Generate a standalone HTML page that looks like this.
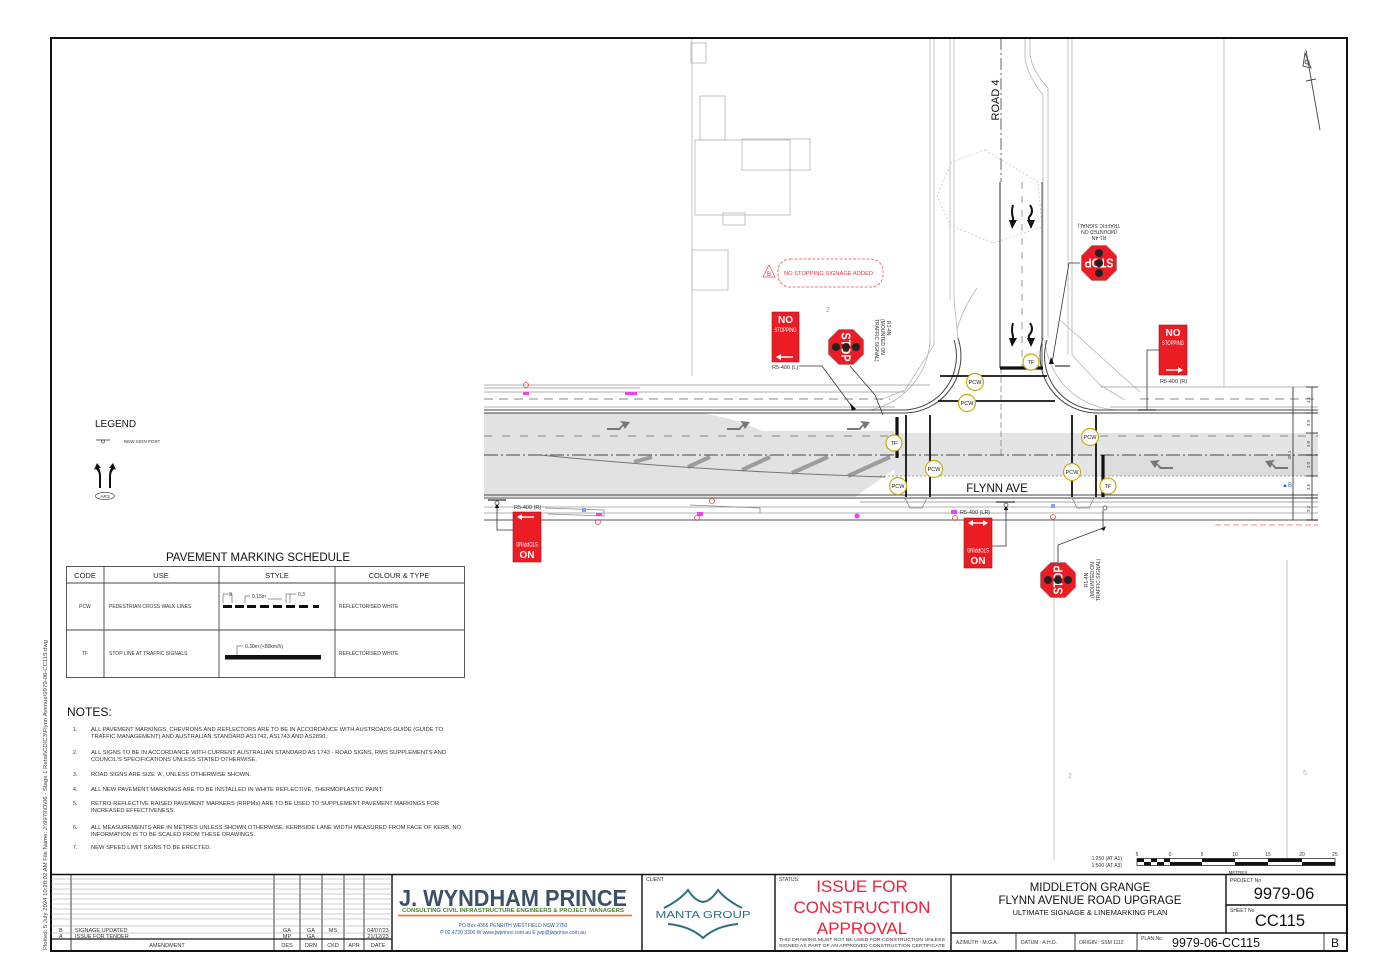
<!DOCTYPE html>
<html><head><meta charset="utf-8">
<style>
html,body{margin:0;padding:0;background:#fff;}
svg{display:block;}
text{font-family:"Liberation Sans",Arial,sans-serif;}
</style></head><body>
<svg width="1385" height="977" viewBox="0 0 1385 977" xmlns="http://www.w3.org/2000/svg">
<rect width="1385" height="977" fill="#fff"/>

<!-- ===== faint plan linework (top) ===== -->
<g stroke="#b5b5b5" stroke-width="0.8" fill="none">
  <line x1="692" y1="38" x2="692" y2="376"/>
  <rect x="691" y="43" width="15" height="20"/>
  <rect x="700" y="96" width="25" height="44"/>
  <rect x="695" y="140" width="95" height="75"/>
  <rect x="742" y="139" width="68" height="31"/>
  <rect x="723" y="213" width="22" height="12"/>
  <rect x="692" y="250" width="36" height="40"/>
  <line x1="1224" y1="38" x2="1224" y2="386"/>
  <line x1="1054" y1="520" x2="1054" y2="860"/>
  <line x1="1287" y1="560" x2="1287" y2="860"/>
  <line x1="930" y1="38" x2="930" y2="345"/>
  <line x1="934" y1="38" x2="934" y2="345"/>
  <line x1="950" y1="38" x2="950" y2="300"/>
  <line x1="954" y1="38" x2="954" y2="300"/>
  <line x1="1068" y1="38" x2="1068" y2="355"/>
  <line x1="1072" y1="38" x2="1072" y2="355"/>
  <path d="M1025 38 L1025 58 Q1027 75 1043 95 L1043 338"/>
  <path d="M1030 38 L1030 55 Q1033 72 1048 88 L1048 338"/>
  <polygon points="985,150 1038,182 1042,227 993,243 950,225 937,195 952,162" stroke-dasharray="2 2" stroke="#c8c8c8"/>
  <path d="M954 300 Q956 320 958 338"/>
  <path d="M977 288 Q962 310 957 330"/>
  <path d="M1060 320 L1140 392"/>
  <path d="M934 345 L905 390 L880 400"/>
  <path d="M1072 355 L1100 385 L1125 400"/>
  <path d="M930 340 A75 75 0 0 1 870 410"/>
  <path d="M1045 340 A75 75 0 0 0 1120 410"/>
</g>

<!-- ===== Flynn Ave pavement ===== -->
<rect x="484" y="413" width="410" height="84" fill="#e2e2e2"/>
<path d="M700 413 L900 413 L900 431 L762 431 Q735 418 700 413 Z" fill="#fff"/>
<path d="M855 497 L896 497 L896 468 Z" fill="#fff"/>
<rect x="894" y="433" width="424" height="43" fill="#e4e4e4"/>
<rect x="1103" y="455" width="215" height="21" fill="#dcdcdc"/>
<g stroke="#9c9c9c" stroke-width="4">
  <line x1="634" y1="462" x2="652" y2="457"/>
  <line x1="688" y1="467" x2="710" y2="457"/>
  <line x1="742" y1="470" x2="770" y2="457"/>
  <line x1="792" y1="473" x2="828" y2="457"/>
  <line x1="848" y1="476" x2="890" y2="457"/>
</g>
<path d="M540 455 Q700 471 885 477" stroke="#777" stroke-width="1" fill="none"/>

<g stroke="#999" stroke-width="0.8" fill="none">
  <line x1="484" y1="385" x2="930" y2="385"/>
  <line x1="484" y1="388" x2="640" y2="388"/>
  <line x1="484" y1="392" x2="905" y2="392"/>
  <line x1="484" y1="407" x2="895" y2="407"/>
  <line x1="1100" y1="387" x2="1318" y2="387"/>
  <line x1="1110" y1="407" x2="1318" y2="407"/>
  <line x1="484" y1="507" x2="1318" y2="507"/>
  <line x1="484" y1="513" x2="1318" y2="513"/>
</g>
<line x1="484" y1="399" x2="890" y2="399" stroke="#888" stroke-width="0.9" stroke-dasharray="9 6"/>
<line x1="1140" y1="399" x2="1318" y2="399" stroke="#888" stroke-width="0.9" stroke-dasharray="9 6"/>
<g stroke="#444" stroke-width="1" fill="none">
  <line x1="484" y1="410" x2="905" y2="410"/>
  <line x1="484" y1="413" x2="905" y2="413"/>
  <line x1="1096" y1="410" x2="1318" y2="410"/>
  <line x1="1096" y1="413" x2="1318" y2="413"/>
  <line x1="484" y1="495" x2="1318" y2="495"/>
  <line x1="484" y1="498" x2="1318" y2="498"/>
  <path d="M958 338 A57 57 0 0 1 905 413"/>
  <path d="M954 340 A54 54 0 0 1 905 410"/>
  <path d="M1043 338 A57 57 0 0 0 1096 413"/>
  <path d="M1047 340 A54 54 0 0 0 1096 410"/>
</g>
<line x1="484" y1="520" x2="1318" y2="520" stroke="#777" stroke-width="1.3"/>
<line x1="484" y1="436" x2="895" y2="436" stroke="#888" stroke-width="1" stroke-dasharray="8 10"/>
<line x1="1100" y1="436" x2="1318" y2="436" stroke="#888" stroke-width="1" stroke-dasharray="8 10"/>
<line x1="484" y1="455" x2="1318" y2="455" stroke="#666" stroke-width="1.2" stroke-dasharray="14 3 2 3"/>
<line x1="880" y1="476" x2="1318" y2="476" stroke="#888" stroke-width="0.8" stroke-dasharray="2 2"/>
<g stroke="#888" stroke-width="0.8" fill="none">
  <path d="M905 498 L910 508 L922 508 L927 498"/>
  <path d="M1072 498 L1077 508 L1089 508 L1094 498"/>
  <path d="M545 508 L604 510 L604 516 L548 514"/>
  <path d="M690 505 L760 508 L760 513 M860 502 L1318 502"/>
</g>

<line x1="1001" y1="38" x2="1001" y2="182" stroke="#555" stroke-width="0.9" stroke-dasharray="12 3 2 3"/>
<line x1="1000" y1="182" x2="1000" y2="368" stroke="#333" stroke-width="1"/>
<line x1="1022" y1="182" x2="1022" y2="368" stroke="#999" stroke-width="1" stroke-dasharray="7 7"/>
<line x1="1042" y1="182" x2="1042" y2="368" stroke="#555" stroke-width="1"/>
<line x1="1001" y1="368" x2="1001" y2="455" stroke="#777" stroke-width="0.7" stroke-dasharray="6 3"/>

<g stroke="#111" fill="none">
  <line x1="1000" y1="368" x2="1043" y2="368" stroke-width="3.2"/>
  <line x1="897" y1="417" x2="897" y2="458" stroke-width="3.2"/>
  <line x1="1103" y1="455" x2="1103" y2="497" stroke-width="3.2"/>
  <line x1="940" y1="376" x2="1047" y2="376" stroke-width="1.8"/>
  <line x1="938" y1="401" x2="1055" y2="401" stroke-width="1.8"/>
  <line x1="906" y1="415" x2="906" y2="497" stroke-width="1.8"/>
  <line x1="930" y1="415" x2="930" y2="497" stroke-width="1.8"/>
  <line x1="1072" y1="415" x2="1072" y2="497" stroke-width="1.8"/>
  <line x1="1096" y1="415" x2="1096" y2="497" stroke-width="1.8"/>
</g>

<g fill="#777">
  <path d="M607 428 L619 428 L623 424 L620 421 L630 422 L625 429 L623 426 L620 430 L607 430 Z"/>
  <path d="M727 428 L739 428 L743 424 L740 421 L750 422 L745 429 L743 426 L740 430 L727 430 Z"/>
  <path d="M847 428 L859 428 L863 424 L860 421 L870 422 L865 429 L863 426 L860 430 L847 430 Z"/>
  <path d="M1173 467 L1161 467 L1157 463 L1160 460 L1150 461 L1155 468 L1157 465 L1160 469 L1173 469 Z"/>
  <path d="M1288 467 L1276 467 L1272 463 L1275 460 L1265 461 L1270 468 L1272 465 L1275 469 L1288 469 Z"/>
</g>
<g fill="#111" stroke="#111">
  <path d="M1013 205 Q1011 212 1013 218 L1013 222" stroke-width="2" fill="none"/>
  <path d="M1009 220 L1017 220 L1012 229 Z" stroke="none"/>
  <path d="M1030 205 Q1034 211 1030 216 Q1027 219 1031 222" stroke-width="2" fill="none"/>
  <path d="M1027 220 L1035 220 L1031 229 Z" stroke="none"/>
  <path d="M1013 323 Q1011 330 1013 336 L1013 340" stroke-width="2" fill="none"/>
  <path d="M1009 338 L1017 338 L1012 347 Z" stroke="none"/>
  <path d="M1030 323 Q1034 329 1030 334 Q1027 337 1031 340" stroke-width="2" fill="none"/>
  <path d="M1027 338 L1035 338 L1031 347 Z" stroke="none"/>
</g>

<g font-size="5.5" text-anchor="middle" fill="#222">
  <g fill="#fff" stroke="#c2ae10" stroke-width="1.2">
    <circle cx="894" cy="443" r="8"/><circle cx="898" cy="486" r="8.5"/>
    <circle cx="934" cy="469" r="8.5"/><circle cx="975" cy="382" r="8.5"/>
    <circle cx="967" cy="403" r="8.5"/><circle cx="1031" cy="362" r="8"/>
    <circle cx="1090" cy="437" r="8.5"/><circle cx="1072" cy="472" r="8.5"/>
    <circle cx="1108" cy="486" r="8"/>
  </g>
  <text x="894" y="445">TF</text><text x="898" y="488">PCW</text>
  <text x="934" y="471">PCW</text><text x="975" y="384">PCW</text>
  <text x="967" y="405">PCW</text><text x="1031" y="364">TF</text>
  <text x="1090" y="439">PCW</text><text x="1072" y="474">PCW</text>
  <text x="1108" y="488">TF</text>
</g>

<text x="997" y="492" font-size="11.5" text-anchor="middle" fill="#111">FLYNN AVE</text>
<text transform="translate(999,100) rotate(-90)" font-size="11" text-anchor="middle" fill="#111">ROAD 4</text>
<text x="826" y="312" font-size="7" fill="#999">2</text>
<text x="1068" y="778" font-size="7" fill="#aaa">2</text>
<text x="1303" y="775" font-size="7" fill="#aaa">5</text>

<g stroke="#222" stroke-width="0.8">
  <line x1="1293" y1="387" x2="1293" y2="520"/>
  <line x1="1312" y1="387" x2="1312" y2="520"/>
  <line x1="1306" y1="387" x2="1318" y2="387"/><line x1="1306" y1="413" x2="1318" y2="413"/>
  <line x1="1306" y1="433" x2="1318" y2="433"/><line x1="1306" y1="455" x2="1318" y2="455"/>
  <line x1="1306" y1="476" x2="1318" y2="476"/><line x1="1306" y1="498" x2="1318" y2="498"/>
  <line x1="1306" y1="520" x2="1318" y2="520"/>
</g>
<g font-size="4.5" fill="#444" text-anchor="middle">
  <text transform="translate(1310,400) rotate(-90)">4.1</text>
  <text transform="translate(1310,423) rotate(-90)">3.0</text>
  <text transform="translate(1310,444) rotate(-90)">3.0</text>
  <text transform="translate(1310,465) rotate(-90)">3.0</text>
  <text transform="translate(1310,487) rotate(-90)">3.6</text>
  <text transform="translate(1310,509) rotate(-90)">3.2</text>
  <text transform="translate(1291,455) rotate(-90)">20.1</text>
</g>
<line x1="1215" y1="525" x2="1318" y2="525" stroke="#f06a3a" stroke-width="0.7" stroke-dasharray="6 3"/>
<text x="1282" y="487" font-size="6" fill="#3060e0">▲B</text>

<g fill="#f040f0">
  <rect x="523" y="392" width="6" height="3"/><rect x="625" y="392" width="12" height="3"/>
  <rect x="596" y="513" width="6" height="3"/><rect x="697" y="512" width="6" height="4"/>
  <rect x="951" y="510" width="6" height="4"/><circle cx="857" cy="516" r="2.5"/>
</g>
<g fill="none" stroke="#f04848" stroke-width="0.8">
  <circle cx="526" cy="385" r="2.5"/><circle cx="598" cy="522" r="2.5"/>
  <circle cx="712" cy="501" r="2.5"/><circle cx="955" cy="518" r="2.5"/>
  <circle cx="697" cy="518" r="2.5"/><circle cx="1053" cy="517" r="2.5"/>
</g>
<g fill="#7fa0ff"><rect x="582" y="508" width="4" height="4"/><rect x="1051" y="504" width="4" height="4"/></g>

<g stroke="#444" stroke-width="0.9" fill="none">
  <line x1="1306" y1="50" x2="1320" y2="130"/>
  <path d="M1305 53 L1311 68 L1303 66 Z"/>
  <line x1="1306" y1="81" x2="1316" y2="79"/>
  <circle cx="1307" cy="62" r="2"/>
</g>

<g stroke="#333" stroke-width="0.8" fill="none">
  <path d="M799 366 L822 366 L853 408"/>
  <path d="M850 366 L875 395 L883 415"/>
  <path d="M1159 350 L1147 350 L1147 410"/>
  <path d="M1080 263 L1069 263 L1052 363"/>
  <path d="M513 530 L497 530 L497 503"/>
  <path d="M992 546 L1006 546 L1006 505"/>
  <path d="M1058 562 L1058 545 L1103 528 L1103 510"/>
  <line x1="488" y1="500" x2="506" y2="500" stroke-width="1.2"/>
  <line x1="996" y1="502" x2="1015" y2="502" stroke-width="1.2"/>
  <line x1="1138" y1="410" x2="1156" y2="410" stroke-width="1.2"/>
  <line x1="1055" y1="366" x2="1070" y2="366" stroke-width="1.2"/>
</g>
<g fill="#111">
  <path d="M850 403 L856 409 L852 411 Z"/><path d="M1051 357 L1054 364 L1049 364 Z"/>
  <path d="M497 502 L495 508 L499 508 Z"/><path d="M1006 504 L1004 510 L1008 510 Z"/>
  <path d="M1101 529 L1106 526 L1104 531 Z"/>
</g>
<g fill="#fff" stroke="#333" stroke-width="0.7">
  <circle cx="497" cy="503" r="2"/><circle cx="1006" cy="505" r="2"/><circle cx="1105" cy="508" r="2"/>
</g>

<!-- NO STOPPING signs -->
<g transform="translate(772,312)">
  <rect width="27" height="50" fill="#ec1c24" stroke="#b01018" stroke-width="0.6"/>
  <text x="13.5" y="11" font-size="10" fill="#fff" text-anchor="middle" font-weight="bold">NO</text>
  <text x="13.5" y="20" font-size="6.5" fill="#fff" text-anchor="middle" textLength="22" lengthAdjust="spacingAndGlyphs">STOPPING</text>
  <line x1="8" y1="45" x2="21" y2="45" stroke="#fff" stroke-width="1.4"/><path d="M4 45 L9 42 L9 48 Z" fill="#fff"/>
</g>
<text x="772" y="369" font-size="5.5" fill="#333">R5-400 (L)</text>
<g transform="translate(1159,325)">
  <rect width="28" height="50" fill="#ec1c24" stroke="#b01018" stroke-width="0.6"/>
  <text x="14" y="11" font-size="10" fill="#fff" text-anchor="middle" font-weight="bold">NO</text>
  <text x="14" y="20" font-size="6.5" fill="#fff" text-anchor="middle" textLength="22" lengthAdjust="spacingAndGlyphs">STOPPING</text>
  <line x1="7" y1="45" x2="20" y2="45" stroke="#fff" stroke-width="1.4"/><path d="M24 45 L19 42 L19 48 Z" fill="#fff"/>
</g>
<text x="1160" y="383" font-size="5.5" fill="#333">R5-400 (R)</text>
<g transform="translate(541,562) rotate(180)">
  <rect width="28" height="50" fill="#ec1c24" stroke="#b01018" stroke-width="0.6"/>
  <text x="14" y="11" font-size="10" fill="#fff" text-anchor="middle" font-weight="bold">NO</text>
  <text x="14" y="20" font-size="6.5" fill="#fff" text-anchor="middle" textLength="22" lengthAdjust="spacingAndGlyphs">STOPPING</text>
  <line x1="7" y1="45" x2="20" y2="45" stroke="#fff" stroke-width="1.4"/><path d="M24 45 L19 42 L19 48 Z" fill="#fff"/>
</g>
<text x="514" y="509" font-size="5.5" fill="#333">R5-400 (R)</text>
<g transform="translate(992,568) rotate(180)">
  <rect width="28" height="50" fill="#ec1c24" stroke="#b01018" stroke-width="0.6"/>
  <text x="14" y="11" font-size="10" fill="#fff" text-anchor="middle" font-weight="bold">NO</text>
  <text x="14" y="20" font-size="6.5" fill="#fff" text-anchor="middle" textLength="22" lengthAdjust="spacingAndGlyphs">STOPPING</text>
  <line x1="8" y1="45" x2="20" y2="45" stroke="#fff" stroke-width="1.4"/>
  <path d="M4 45 L9 42 L9 48 Z" fill="#fff"/><path d="M24 45 L19 42 L19 48 Z" fill="#fff"/>
</g>
<text x="960" y="514" font-size="5.5" fill="#333">R5-400 (LR)</text>

<!-- STOP signs -->
<g transform="translate(846,347) rotate(90)">
  <polygon points="17.6,7.3 7.3,17.6 -7.3,17.6 -17.6,7.3 -17.6,-7.3 -7.3,-17.6 7.3,-17.6 17.6,-7.3" fill="#ec1c24" stroke="#999" stroke-width="0.6"/>
  <text x="0" y="4.5" font-size="12.5" font-weight="bold" fill="#fff" text-anchor="middle" textLength="29" lengthAdjust="spacingAndGlyphs">STOP</text>
  <circle cx="0" cy="-10" r="4" fill="#222"/><circle cx="0" cy="0" r="4" fill="#222"/><circle cx="0" cy="10" r="4" fill="#222"/>
</g>
<g font-size="5" fill="#333" text-anchor="start">
  <text transform="translate(887,321) rotate(90)">R1-4N</text>
  <text transform="translate(881,319) rotate(90)">(MOUNTED ON</text>
  <text transform="translate(875,319) rotate(90)">TRAFFIC SIGNAL)</text>
</g>
<g transform="translate(1099,263) rotate(180)">
  <polygon points="17.6,7.3 7.3,17.6 -7.3,17.6 -17.6,7.3 -17.6,-7.3 -7.3,-17.6 7.3,-17.6 17.6,-7.3" fill="#ec1c24" stroke="#999" stroke-width="0.6"/>
  <text x="0" y="4.5" font-size="12.5" font-weight="bold" fill="#fff" text-anchor="middle" textLength="29" lengthAdjust="spacingAndGlyphs">STOP</text>
  <circle cx="0" cy="-10" r="4" fill="#222"/><circle cx="0" cy="0" r="4" fill="#222"/><circle cx="0" cy="10" r="4" fill="#222"/>
</g>
<g font-size="5" fill="#333" text-anchor="middle">
  <text transform="translate(1099,236) rotate(180)">R1-4N</text>
  <text transform="translate(1099,230) rotate(180)">(MOUNTED ON</text>
  <text transform="translate(1099,224) rotate(180)">TRAFFIC SIGNAL)</text>
</g>
<g transform="translate(1058,580) rotate(-90)">
  <polygon points="17.6,7.3 7.3,17.6 -7.3,17.6 -17.6,7.3 -17.6,-7.3 -7.3,-17.6 7.3,-17.6 17.6,-7.3" fill="#ec1c24" stroke="#999" stroke-width="0.6"/>
  <text x="0" y="4.5" font-size="12.5" font-weight="bold" fill="#fff" text-anchor="middle" textLength="29" lengthAdjust="spacingAndGlyphs">STOP</text>
  <circle cx="0" cy="-10" r="4" fill="#222"/><circle cx="0" cy="0" r="4" fill="#222"/><circle cx="0" cy="10" r="4" fill="#222"/>
</g>
<g font-size="5" fill="#333" text-anchor="middle">
  <text transform="translate(1088,580) rotate(-90)">R1-4N</text>
  <text transform="translate(1094,580) rotate(-90)">(MOUNTED ON</text>
  <text transform="translate(1100,580) rotate(-90)">TRAFFIC SIGNAL)</text>
</g>

<rect x="778" y="259" width="105" height="28" rx="12" fill="none" stroke="#f04858" stroke-width="0.8" stroke-dasharray="3 1.5"/>
<text x="784" y="275" font-size="5.5" fill="#f03040" textLength="89" lengthAdjust="spacingAndGlyphs">NO STOPPING SIGNAGE ADDED</text>
<path d="M769 265 L763 277 L775 277 Z" fill="none" stroke="#f04858" stroke-width="0.7"/>
<text x="769" y="276" font-size="6" fill="#f03040" text-anchor="middle">B</text>

<!-- LEGEND -->
<text x="95" y="427" font-size="10" fill="#111">LEGEND</text>
<line x1="96" y1="440" x2="110" y2="440" stroke="#333" stroke-width="0.8"/>
<circle cx="103" cy="441.5" r="1.5" fill="none" stroke="#333" stroke-width="0.6"/>
<text x="124" y="443" font-size="4.5" fill="#333">NEW SIGN POST</text>
<g fill="#111">
  <path d="M99 488 L99 476 Q99 472 96 469 L94 470 L97 463 L101 468 L99 468 Q101 472 101 476 L101 488 Z"/>
  <path d="M111 488 L111 476 Q111 472 114 469 L116 470 L113 463 L109 468 L111 468 Q109 472 109 476 L109 488 Z"/>
</g>
<ellipse cx="105" cy="496" rx="9.5" ry="3.6" fill="none" stroke="#333" stroke-width="0.6"/>
<text x="105" y="498" font-size="4.8" fill="#333" text-anchor="middle">AR3</text>

<!-- PAVEMENT MARKING SCHEDULE -->
<text x="258" y="561" font-size="11.5" fill="#111" text-anchor="middle">PAVEMENT MARKING SCHEDULE</text>
<g stroke="#444" stroke-width="0.9" fill="none">
  <rect x="66.5" y="566.5" width="398" height="111"/>
  <line x1="66" y1="583" x2="465" y2="583"/>
  <line x1="66" y1="630" x2="465" y2="630"/>
  <line x1="104" y1="566" x2="104" y2="678"/>
  <line x1="219" y1="566" x2="219" y2="678"/>
  <line x1="335" y1="566" x2="335" y2="678"/>
</g>
<g font-size="7.5" fill="#222" text-anchor="middle">
  <text x="85" y="578">CODE</text><text x="161" y="578">USE</text>
  <text x="277" y="578">STYLE</text><text x="399" y="578">COLOUR &amp; TYPE</text>
</g>
<g font-size="5" fill="#333">
  <text x="85" y="608" text-anchor="middle">PCW</text>
  <text x="109" y="608">PEDESTRIAN CROSS WALK LINES</text>
  <text x="339" y="608">REFLECTORISED WHITE</text>
  <text x="85" y="655" text-anchor="middle">TF</text>
  <text x="109" y="655">STOP LINE AT TRAFFIC SIGNALS</text>
  <text x="339" y="655">REFLECTORISED WHITE</text>
  <text x="229" y="596">3</text><text x="252" y="598">0.15m</text><text x="298" y="596">0.3</text>
  <text x="245" y="648">0.30m  (&lt;80km/h)</text>
</g>
<g fill="#111">
  <rect x="223" y="605" width="9" height="3"/><rect x="235" y="605" width="9" height="3"/>
  <rect x="247" y="605" width="9" height="3"/><rect x="260" y="605" width="9" height="3"/>
  <rect x="273" y="605" width="9" height="3"/><rect x="286" y="605" width="9" height="3"/>
  <rect x="299" y="605" width="9" height="3"/><rect x="313" y="605" width="6" height="3"/>
  <rect x="225" y="655" width="96" height="4.5"/>
</g>
<g stroke="#333" stroke-width="0.5" fill="none">
  <path d="M223 603 L223 594 L232 594 M232 594 L232 603"/>
  <path d="M245 603 L245 596 L250 596"/>
  <path d="M268 599 L282 599"/>
  <path d="M286 603 L286 594 L296 594 M290 594 L290 603"/>
  <path d="M237 655 L237 646 L243 646"/>
</g>

<!-- NOTES -->
<text x="67" y="716" font-size="12" fill="#111">NOTES:</text>
<g font-size="5.2" fill="#333">
  <text x="73" y="731">1.</text>
  <text x="91" y="731" textLength="352" lengthAdjust="spacingAndGlyphs">ALL PAVEMENT MARKINGS, CHEVRONS AND REFLECTORS ARE TO BE IN ACCORDANCE WITH AUSTROADS GUIDE (GUIDE TO</text>
  <text x="91" y="738" textLength="236" lengthAdjust="spacingAndGlyphs">TRAFFIC MANAGEMENT) AND AUSTRALIAN STANDARD AS1742, AS1743 AND AS2890.</text>
  <text x="73" y="754">2.</text>
  <text x="91" y="754" textLength="355" lengthAdjust="spacingAndGlyphs">ALL SIGNS TO BE IN ACCORDANCE WITH CURRENT AUSTRALIAN STANDARD AS 1743 - ROAD SIGNS, RMS SUPPLEMENTS AND</text>
  <text x="91" y="761" textLength="166" lengthAdjust="spacingAndGlyphs">COUNCIL'S SPECIFICATIONS UNLESS STATED OTHERWISE.</text>
  <text x="73" y="776">3.</text>
  <text x="91" y="776" textLength="160" lengthAdjust="spacingAndGlyphs">ROAD SIGNS ARE SIZE 'A', UNLESS OTHERWISE SHOWN.</text>
  <text x="73" y="791">4.</text>
  <text x="91" y="791" textLength="292" lengthAdjust="spacingAndGlyphs">ALL NEW PAVEMENT MARKINGS ARE TO BE INSTALLED IN WHITE REFLECTIVE, THERMOPLASTIC PAINT.</text>
  <text x="73" y="805">5.</text>
  <text x="91" y="805" textLength="348" lengthAdjust="spacingAndGlyphs">RETRO-REFLECTIVE RAISED PAVEMENT MARKERS (RRPMs) ARE TO BE USED TO SUPPLEMENT PAVEMENT MARKINGS FOR</text>
  <text x="91" y="812" textLength="84" lengthAdjust="spacingAndGlyphs">INCREASED EFFECTIVENESS.</text>
  <text x="73" y="829">6.</text>
  <text x="91" y="829" textLength="370" lengthAdjust="spacingAndGlyphs">ALL MEASUREMENTS ARE IN METRES UNLESS SHOWN OTHERWISE. KERBSIDE LANE WIDTH MEASURED FROM FACE OF KERB. NO</text>
  <text x="91" y="836" textLength="164" lengthAdjust="spacingAndGlyphs">INFORMATION IS TO BE SCALED FROM THESE DRAWINGS.</text>
  <text x="73" y="849">7.</text>
  <text x="91" y="849" textLength="120" lengthAdjust="spacingAndGlyphs">NEW SPEED LIMIT SIGNS TO BE ERECTED.</text>
</g>

<text transform="translate(47,950) rotate(-90)" font-size="5" fill="#444" textLength="310" lengthAdjust="spacingAndGlyphs">Plotted: 5 July 2024 10:28:02 AM   File Name: J:\9979\D\06 - Stage 1 Retail\CD\C3\Flynn Avenue\9979-06-CC115.dwg</text>

<!-- scale bar -->
<g font-size="5" fill="#333">
  <text x="1122" y="860" text-anchor="end">1:250 (AT A1)</text>
  <text x="1122" y="867" text-anchor="end">1:500 (AT A3)</text>
  <g text-anchor="middle">
    <text x="1137" y="856">5</text><text x="1170" y="856">0</text><text x="1202" y="856">5</text>
    <text x="1235" y="856">10</text><text x="1268" y="856">15</text><text x="1302" y="856">20</text><text x="1335" y="856">25</text>
  </g>
  <text x="1238" y="874" font-size="4.5" text-anchor="middle">METRES</text>
</g>
<rect x="1137" y="858.5" width="198" height="7" fill="none" stroke="#111" stroke-width="0.7"/>
<g fill="#111">
  <rect x="1137" y="858.5" width="7" height="3.5"/><rect x="1144" y="862" width="7" height="3.5"/>
  <rect x="1151" y="858.5" width="6" height="3.5"/><rect x="1157" y="862" width="7" height="3.5"/>
  <rect x="1164" y="858.5" width="6" height="3.5"/>
  <rect x="1170" y="862" width="32" height="3.5"/><rect x="1202" y="858.5" width="33" height="3.5"/>
  <rect x="1235" y="862" width="33" height="3.5"/><rect x="1268" y="858.5" width="34" height="3.5"/>
  <rect x="1302" y="862" width="33" height="3.5"/>
</g>

<!-- BORDER & TITLE BLOCK -->
<rect x="51" y="38" width="1296" height="913" fill="none" stroke="#111" stroke-width="2"/>
<line x1="51" y1="874.5" x2="1347" y2="874.5" stroke="#111" stroke-width="1.6"/>
<g stroke="#111" stroke-width="1.4">
  <line x1="392" y1="874" x2="392" y2="951"/><line x1="642" y1="874" x2="642" y2="951"/>
  <line x1="775" y1="874" x2="775" y2="951"/><line x1="951" y1="874" x2="951" y2="951"/>
  <line x1="1226" y1="874" x2="1226" y2="933"/>
  <line x1="951" y1="933" x2="1347" y2="933"/><line x1="1226" y1="905" x2="1347" y2="905"/>
</g>
<g stroke="#111" stroke-width="0.8">
  <line x1="1016" y1="933" x2="1016" y2="951"/><line x1="1075" y1="933" x2="1075" y2="951"/>
  <line x1="1137" y1="933" x2="1137" y2="951"/><line x1="1324" y1="933" x2="1324" y2="951"/>
  <line x1="71" y1="874" x2="71" y2="951"/><line x1="274" y1="874" x2="274" y2="951"/>
  <line x1="300" y1="874" x2="300" y2="951"/><line x1="322" y1="874" x2="322" y2="951"/>
  <line x1="344" y1="874" x2="344" y2="951"/><line x1="364" y1="874" x2="364" y2="951"/>
</g>
<g stroke="#999" stroke-width="0.6">
  <line x1="51" y1="879" x2="392" y2="879"/><line x1="51" y1="884" x2="392" y2="884"/>
  <line x1="51" y1="889" x2="392" y2="889"/><line x1="51" y1="894" x2="392" y2="894"/>
  <line x1="51" y1="899" x2="392" y2="899"/><line x1="51" y1="904" x2="392" y2="904"/>
  <line x1="51" y1="909" x2="392" y2="909"/><line x1="51" y1="914" x2="392" y2="914"/>
  <line x1="51" y1="919" x2="392" y2="919"/><line x1="51" y1="926" x2="392" y2="926"/>
  <line x1="51" y1="933" x2="392" y2="933"/>
</g>
<line x1="51" y1="939" x2="392" y2="939" stroke="#111" stroke-width="1.2"/>
<g font-size="5.5" fill="#333">
  <text x="59" y="932">B</text><text x="75" y="932">SIGNAGE UPDATED</text>
  <text x="287" y="932" text-anchor="middle">GA</text><text x="311" y="932" text-anchor="middle">GA</text>
  <text x="333" y="932" text-anchor="middle">MS</text><text x="378" y="932" text-anchor="middle">04/07/23</text>
  <text x="59" y="938">A</text><text x="75" y="938">ISSUE FOR TENDER</text>
  <text x="287" y="938" text-anchor="middle">MP</text><text x="311" y="938" text-anchor="middle">GA</text>
  <text x="378" y="938" text-anchor="middle">21/12/23</text>
  <text x="167" y="947" text-anchor="middle">AMENDMENT</text>
  <text x="287" y="947" text-anchor="middle">DES</text><text x="311" y="947" text-anchor="middle">DRN</text>
  <text x="333" y="947" text-anchor="middle">CKD</text><text x="354" y="947" text-anchor="middle">APR</text>
  <text x="378" y="947" text-anchor="middle">DATE</text>
</g>

<text x="399" y="906" font-size="23" font-weight="bold" fill="#3c5068" textLength="228" lengthAdjust="spacingAndGlyphs">J. WYNDHAM PRINCE</text>
<text x="402" y="912" font-size="5.3" font-weight="bold" fill="#4f7d2c" textLength="222" lengthAdjust="spacingAndGlyphs">CONSULTING CIVIL INFRASTRUCTURE ENGINEERS &amp; PROJECT MANAGERS</text>
<line x1="398" y1="915.5" x2="632" y2="915.5" stroke="#f07a3a" stroke-width="1.8"/>
<text x="513" y="927" font-size="5" fill="#2a56a0" text-anchor="middle">PO Box 4366 PENRITH WESTFIELD NSW 2750</text>
<text x="513" y="934" font-size="5" fill="#2a56a0" text-anchor="middle">P 02 4720 3300    W www.jwprince.com.au    E jwp@jwprince.com.au</text>

<text x="646" y="881" font-size="5" fill="#333">CLIENT</text>
<path d="M664 908 Q680 900 688 890 Q695 901 703 902 Q711 901 718 890 Q726 900 742 908" fill="none" stroke="#2d6e80" stroke-width="2"/>
<text x="703" y="918" font-size="10" fill="#2d6e80" text-anchor="middle" textLength="95" lengthAdjust="spacingAndGlyphs">MANTA GROUP</text>
<path d="M668 924 Q690 926 703 938 Q716 926 738 924" fill="none" stroke="#2d6e80" stroke-width="2"/>

<text x="779" y="881" font-size="5" fill="#333">STATUS:</text>
<g font-size="17" fill="#f0203a" text-anchor="middle">
  <text x="862" y="892">ISSUE FOR</text>
  <text x="862" y="913">CONSTRUCTION</text>
  <text x="862" y="934">APPROVAL</text>
</g>
<text x="862" y="941" font-size="4.5" fill="#333" text-anchor="middle" textLength="166" lengthAdjust="spacingAndGlyphs">THIS DRAWING MUST NOT BE USED FOR CONSTRUCTION UNLESS</text>
<text x="862" y="947" font-size="4.5" fill="#333" text-anchor="middle" textLength="166" lengthAdjust="spacingAndGlyphs">SIGNED AS PART OF AN APPROVED CONSTRUCTION CERTIFICATE</text>

<g fill="#111" text-anchor="middle">
  <text x="1090" y="891" font-size="11.5">MIDDLETON GRANGE</text>
  <text x="1090" y="904" font-size="11.5">FLYNN AVENUE ROAD UPGRAGE</text>
  <text x="1090" y="915" font-size="7.5">ULTIMATE SIGNAGE &amp; LINEMARKING PLAN</text>
</g>
<g font-size="5" fill="#333">
  <text x="1230" y="882">PROJECT No</text>
  <text x="1230" y="912">SHEET No</text>
  <text x="956" y="944">AZIMUTH : M.G.A.</text>
  <text x="1021" y="944">DATUM : A.H.D.</text>
  <text x="1079" y="944">ORIGIN : SSM 1112</text>
  <text x="1141" y="940">PLAN No</text>
</g>
<text x="1284" y="899" font-size="16.5" fill="#111" text-anchor="middle">9979-06</text>
<text x="1280" y="926" font-size="16.5" fill="#111" text-anchor="middle">CC115</text>
<text x="1172" y="947" font-size="12.5" fill="#111">9979-06-CC115</text>
<text x="1335" y="947" font-size="12" fill="#111" text-anchor="middle">B</text>
</svg>
</body></html>
